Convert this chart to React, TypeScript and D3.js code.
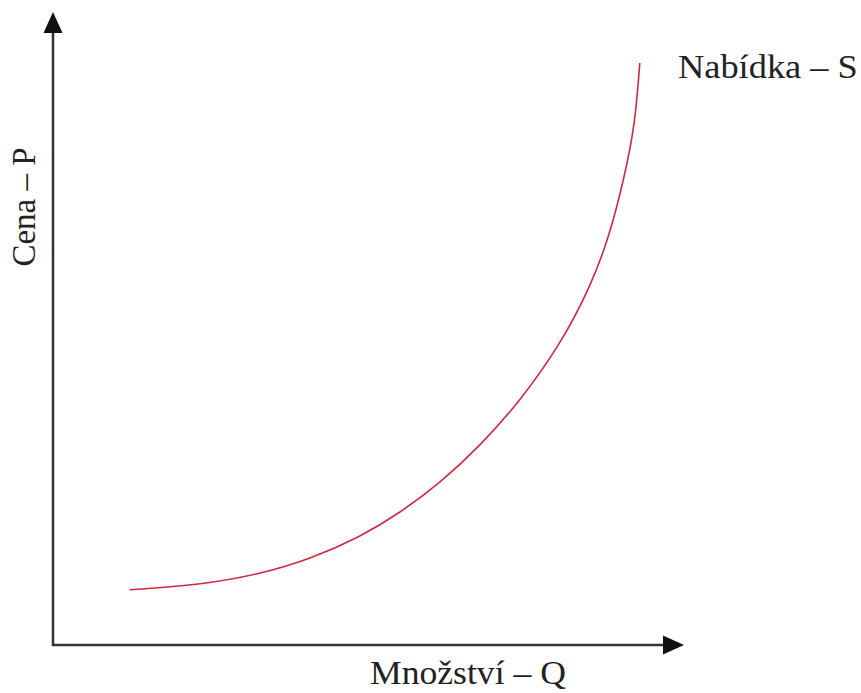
import * as React from "react";
import * as d3 from "d3";

// supply curve (arbitrary units 0-100)
const quantity = [12.8, 24.5, 34.5, 42.8, 51.2, 57.8, 64.5, 71.2, 77.8, 84.5, 89.5, 92.8, 95.3, 97, 97.8];
const price = [9.2, 10.0, 11.8, 14.3, 18.0, 22.0, 27.0, 33.2, 40.6, 50.0, 59.5, 68.3, 78.3, 86.7, 97.0];

const xLabel = "Množství – Q";
const yLabel = "Cena – P";
const curveLabel = "Nabídka – S";

const W = 861;
const H = 693;

const App: React.FC = () => {
    const x = d3.scaleLinear().domain([0, 100]).range([53, 653]);
    const y = d3.scaleLinear().domain([0, 100]).range([645, 45]);

    const pts: [number, number][] = quantity.map((q, i) => [q, price[i]]);
    const line = d3.line<[number, number]>()
        .x(d => x(d[0]))
        .y(d => y(d[1]))
        .curve(d3.curveBasis);

    const ox = x(0);
    const oy = y(0);
    const font = "'Liberation Serif', 'Times New Roman', serif";

    return (
        <svg width={W} height={H} style={{ position: "absolute", left: 0, top: 0, background: "#fff" }}>
            {/* axes */}
            <line x1={ox} y1={oy + 1} x2={ox} y2={30} stroke="#333" strokeWidth={2.5} />
            <line x1={ox - 1} y1={oy} x2={666} y2={oy} stroke="#333" strokeWidth={2.5} />
            <path d={`M${ox},12 L${ox - 9.5},33 L${ox + 9.5},33 Z`} fill="#111" />
            <path d={`M684,${oy} L663,${oy - 9.5} L663,${oy + 9.5} Z`} fill="#111" />

            <path d={line(pts) || ""} fill="none" stroke="#cc2a40" strokeWidth={1.6} />

            {/* the reference text is a bit wider than the font, stretch it */}
            <text transform="translate(370,684) scale(1.08,1)" fontFamily={font} fontSize={33} fill="#222">{xLabel}</text>
            <text transform={`translate(35,207) rotate(-90)`} textAnchor="middle"
                fontFamily={font} fontSize={33} fill="#222">{yLabel}</text>
            <text transform="translate(678,78) scale(1.07,1)" fontFamily={font} fontSize={34} fill="#222">{curveLabel}</text>
        </svg>
    );
};

export default App;
